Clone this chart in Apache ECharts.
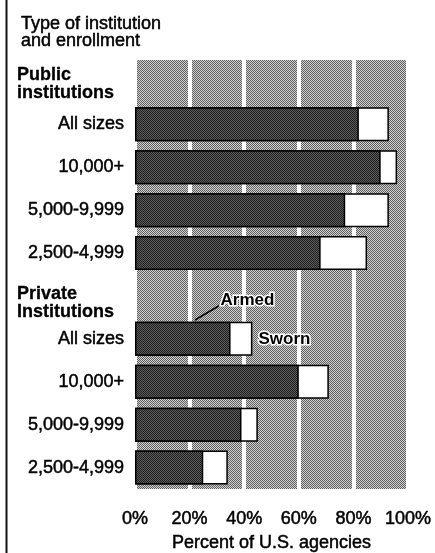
<!DOCTYPE html>
<html>
<head>
<meta charset="utf-8">
<script src="https://cdn.jsdelivr.net/npm/echarts@6/dist/echarts.min.js"></script>
<style>
html,body{margin:0;padding:0;background:#fff;}
#chart{width:435px;height:553px;}
</style>
</head>
<body>
<div id="chart"></div>
<script>
// ---- data ----
const categories = ['Public institutions', 'All sizes', '10,000+', '5,000-9,999', '2,500-4,999',
                    'Private Institutions', 'All sizes', '10,000+', '5,000-9,999', '2,500-4,999'];
const headerRows = [0, 5];
const armed = ['-', 82, 90, 77, 68, '-', 35, 60, 39, 25];
const sworn = ['-', 93, 96, 93, 85, '-', 43, 71, 45, 34];
const xTicks = [0, 20, 40, 60, 80, 100];

const FONT = '"Liberation Sans", Arial, Helvetica, sans-serif';
const THICK = { textBorderColor: '#000', textBorderWidth: 0.5 };

function checker(c1, c2) {
  const cv = document.createElement('canvas');
  cv.width = 2; cv.height = 2;
  const ctx = cv.getContext('2d');
  ctx.fillStyle = c2; ctx.fillRect(0, 0, 2, 2);
  ctx.fillStyle = c1; ctx.fillRect(0, 0, 1, 1); ctx.fillRect(1, 1, 1, 1);
  return { image: cv, repeat: 'repeat' };
}
const bgPattern = checker('#5e5e5e', '#d2d2d2');
const darkPattern = checker('#1c1c1c', '#606060');

const chart = echarts.init(document.getElementById('chart'));
chart.setOption({
  animation: false,
  title: {
    text: 'Type of institution\nand enrollment',
    left: 16, top: 11,
    textStyle: Object.assign({ fontFamily: FONT, fontSize: 18, fontWeight: 'normal', color: '#000', lineHeight: 17 }, THICK)
  },
  grid: {
    left: 135, right: 27, top: 60, bottom: 64,
    containLabel: false, outerBoundsMode: 'none',
    show: true, backgroundColor: bgPattern, borderWidth: 0
  },
  xAxis: {
    type: 'value', min: 0, max: 100, interval: 20,
    axisLine: { show: false }, axisTick: { show: false },
    splitLine: { show: true, lineStyle: { color: '#fff', width: 4 } },
    axisLabel: Object.assign({
      formatter: v => xTicks.indexOf(v) >= 0 ? v + '%' : '',
      fontFamily: FONT, fontSize: 18, color: '#000', margin: 21
    }, THICK),
    name: 'Percent of U.S. agencies', nameLocation: 'middle', nameGap: 45,
    nameTextStyle: Object.assign({ fontFamily: FONT, fontSize: 18, color: '#000' }, THICK)
  },
  yAxis: {
    type: 'category', inverse: true, data: categories,
    axisLine: { show: false }, axisTick: { show: false },
    axisLabel: Object.assign({
      margin: 11, fontFamily: FONT, fontSize: 18, color: '#000',
      formatter: (v, i) => {
        if (headerRows.indexOf(i) >= 0) {
          const parts = v.split(' ');
          return '{' + (i === 0 ? 's1' : 's2') + '| }\n{h|' + parts[0] + '}\n{h|' + parts[1] + '}';
        }
        return v;
      },
      rich: {
        h: Object.assign({ width: 107, align: 'left', fontFamily: FONT, fontSize: 18, fontWeight: 'bold', color: '#000', lineHeight: 18 }, { textBorderColor: '#000', textBorderWidth: 0.3 }),
        s1: { width: 107, lineHeight: 6, fontSize: 6 },
        s2: { width: 107, lineHeight: 14, fontSize: 6 }
      }
    }, THICK)
  },
  series: [
    {
      name: 'Sworn', type: 'bar', data: sworn, barWidth: 34,
      itemStyle: { color: '#fff', borderColor: '#000', borderWidth: 1.5 }
    },
    {
      name: 'Armed', type: 'bar', data: armed, barWidth: 34, barGap: '-100%',
      itemStyle: { color: darkPattern, borderColor: '#000', borderWidth: 1.5 }
    }
  ],
  graphic: [
    { type: 'line', shape: { x1: 6.5, y1: 0, x2: 6.5, y2: 553 }, style: { stroke: '#111', lineWidth: 2 } },
    { type: 'line', shape: { x1: 195, y1: 320, x2: 222, y2: 304 }, style: { stroke: '#000', lineWidth: 1.5 } },
    { type: 'text', left: 219, top: 290, z: 10, style: { text: 'Armed', fontFamily: FONT, fontSize: 17, fontWeight: 'bold', fill: '#000', stroke: '#fff', lineWidth: 3, strokeFirst: true } },
    { type: 'text', left: 257, top: 329, z: 10, style: { text: 'Sworn', fontFamily: FONT, fontSize: 17, fontWeight: 'bold', fill: '#000', stroke: '#fff', lineWidth: 3, strokeFirst: true } }
  ]
});
</script>
</body>
</html>
